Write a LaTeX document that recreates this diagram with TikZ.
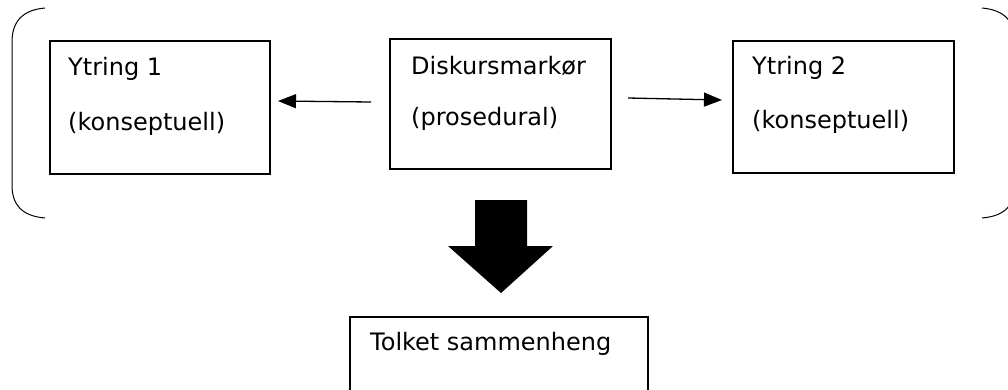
\documentclass[tikz,border=0pt]{standalone}
\usepackage{fontspec}
\setmainfont{DejaVu Sans}
\usetikzlibrary{arrows.meta}
\begin{document}
\begin{tikzpicture}[x=1pt,y=-1pt,
  box/.style={draw=black,line width=1.8pt,rectangle,inner sep=0pt,anchor=north west},
  txt/.style={anchor=base west,inner sep=0pt,font=\fontsize{24}{28}\selectfont},
  conn/.style={line width=1.3pt,-{Triangle[length=18pt,width=14pt]}},
  brack/.style={line width=1pt}]
\useasboundingbox (0,0) rectangle (1008,389);
\clip (0,0) rectangle (1008,389);
% boxes
\node[box,minimum width=220pt,minimum height=133pt] (b1) at (49,40) {};
\node[box,minimum width=221pt,minimum height=130pt] (b2) at (389,38) {};
\node[box,minimum width=221pt,minimum height=132pt] (b3) at (732,40) {};
\node[box,minimum width=298pt,minimum height=120pt] (b4) at (349,316) {};
% texts
\node[txt] (t1a) at (68,75) {Ytring 1};
\node[txt] (t1b) at (68,130) {(konseptuell)};
\node[txt] (t2a) at (411,74) {Diskursmarkør};
\node[txt] (t2b) at (411,125) {(prosedural)};
\node[txt] (t3a) at (752,74) {Ytring 2};
\node[txt] (t3b) at (752,128) {(konseptuell)};
\node[txt] (t4a) at (370,350) {Tolket sammenheng};
% connectors
\coordinate (l0) at (371,102);
\coordinate (l1) at (278,101);
\coordinate (r0) at (628,98);
\coordinate (r1) at (722,100);
\draw[conn] (l0) -- (l1);
\draw[conn] (r0) -- (r1);
% block arrow
\fill[black] (475,200) -- (527,200) -- (527,246) -- (553,246) -- (501,293) -- (448,246) -- (475,246) -- cycle;
% brackets
\draw[brack] (45,8) .. controls (22,10) and (12,22) .. (12,42) -- (12,185) .. controls (12,205) and (22,216) .. (45,218);
\draw[brack] (982,8) .. controls (1005,10) and (1015,22) .. (1015,42) -- (1015,185) .. controls (1015,205) and (1005,216) .. (982,218);
\end{tikzpicture}
\end{document}
